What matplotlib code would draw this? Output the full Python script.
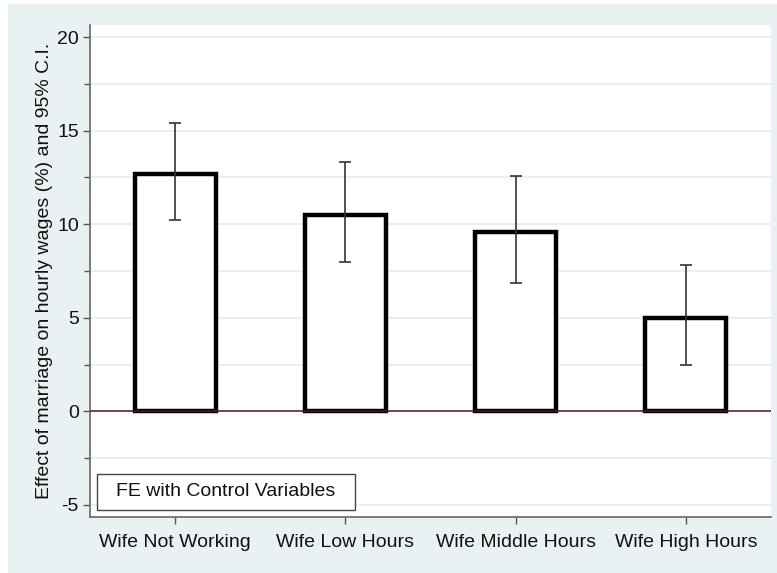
import matplotlib
matplotlib.use("Agg")
import matplotlib.pyplot as plt
from matplotlib.patches import Rectangle
from matplotlib.ticker import MultipleLocator

plt.rcParams['font.family'] = ['Liberation Sans', 'DejaVu Sans']

categories = ["Wife Not Working", "Wife Low Hours", "Wife Middle Hours", "Wife High Hours"]
effects = [12.7, 10.5, 9.6, 5.0]
ci_low = [10.2, 8.0, 6.85, 2.45]
ci_high = [15.4, 13.3, 12.6, 7.8]
legend_label = "FE with Control Variables"
y_label = "Effect of marriage on hourly wages (%) and 95% C.I."

W, H = 777, 573
fig = plt.figure(figsize=(W / 100, H / 100), dpi=100)
fig.patch.set_facecolor("white")
bg = "#eaf1f3"
fig.patches.append(Rectangle((8 / W, 0), 1 - 8 / W, 1 - 4 / H,
                             transform=fig.transFigure, facecolor=bg,
                             edgecolor="none", zorder=-10))

left, right, top, bottom = 90, 771, 25, 517
ax = fig.add_axes([left / W, 1 - bottom / H, (right - left) / W, (bottom - top) / H])
ax.set_facecolor("white")

x = list(range(len(categories)))
ax.bar(x, effects, width=0.475, facecolor="white", edgecolor="black",
       linewidth=3.2, zorder=3)
yerr = [[e - lo for e, lo in zip(effects, ci_low)],
        [hi - e for e, hi in zip(effects, ci_high)]]
ax.errorbar(x, effects, yerr=yerr, fmt="none", ecolor="#333333",
            elinewidth=1.2, capsize=4, capthick=1.2, zorder=4)
ax.axhline(0, color="#4a1a28", linewidth=1.1, zorder=5)

ax.set_xlim(-0.5, 3.5)
ax.set_ylim(-5.65, 20.65)
ax.yaxis.set_major_locator(MultipleLocator(5))
ax.yaxis.set_minor_locator(MultipleLocator(2.5))
ax.grid(True, which="both", axis="y", color="#e6eef1", linewidth=1.3, zorder=0)
ax.set_axisbelow(True)

ax.set_xticks(x)
ax.set_xticklabels(categories, fontsize=14, color="#111111")
ax.tick_params(axis="x", length=5, width=1, color="#555555", pad=7)
ax.tick_params(axis="y", which="major", length=5, width=1, color="#555555",
               labelsize=14, labelcolor="#111111", pad=3)
ax.tick_params(axis="y", which="minor", length=4, width=1, color="#555555")
ax.set_yticks([-5, 0, 5, 10, 15, 20])
ax.set_yticklabels(["-5", "0", "5", "10", "15", "20"])

for s in ("top", "right"):
    ax.spines[s].set_visible(False)
for s in ("left", "bottom"):
    ax.spines[s].set_color("#666666")
    ax.spines[s].set_linewidth(1.2)

ax.set_ylabel(y_label, fontsize=14, color="#111111", labelpad=3)

# Legend key box in the lower-left corner of the plot region
bx0, bx1 = (97 - left) / (right - left), (355 - left) / (right - left)
by0, by1 = (bottom - 510) / (bottom - top), (bottom - 474) / (bottom - top)
ax.add_patch(Rectangle((bx0, by0), bx1 - bx0, by1 - by0, transform=ax.transAxes,
                       facecolor="white", edgecolor="#444444", linewidth=1.0,
                       zorder=6))
ax.text((bx0 + bx1) / 2, (by0 + by1) / 2, legend_label, transform=ax.transAxes,
        fontsize=14, color="#111111", ha="center", va="center", zorder=7)

fig.savefig("out.png", dpi=100, facecolor=fig.get_facecolor())
